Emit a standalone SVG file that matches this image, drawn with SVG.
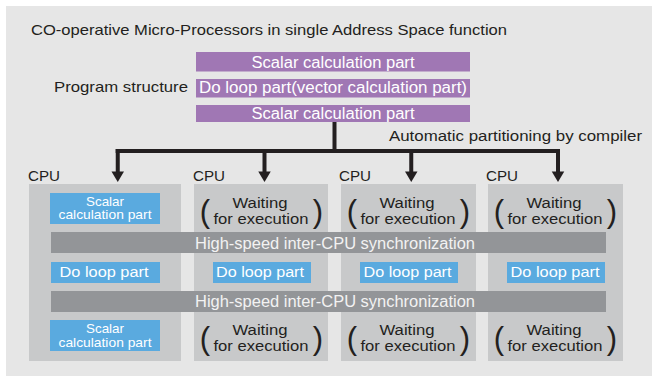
<svg xmlns="http://www.w3.org/2000/svg" width="652" height="376" viewBox="0 0 652 376">
<style>
text{font-family:"Liberation Sans",Arial,sans-serif;}
.dark{fill:#231f20;}
.wht{fill:#ffffff;}
.syn{fill:#f2f2f2;}
.purple{fill:#a077b4;}
.blue{fill:#5aaadf;}
.cpu{fill:#c8c9ca;}
.sync{fill:#939598;}
.par{font-size:31px;fill:#231f20;}
.wt{font-size:13.8px;fill:#231f20;}
.bt{font-size:13px;fill:#ffffff;}
.dl{font-size:15.5px;fill:#ffffff;}
.line{stroke:#231f20;stroke-width:4;fill:none;}
.ah{fill:#231f20;}
</style>
<rect x="6" y="6" width="646" height="370" fill="#e6e6e6"/>
<text x="31" y="35" font-size="14.5" class="dark" textLength="476" lengthAdjust="spacingAndGlyphs">CO-operative Micro-Processors in single Address Space function</text>

<g id="program">
<text x="54" y="92" font-size="15" class="dark" textLength="134" lengthAdjust="spacingAndGlyphs">Program structure</text>
<g id="bar1"><rect class="purple" x="196" y="52" width="274" height="19.5"/><text x="333" y="67.5" font-size="16" class="wht" text-anchor="middle" textLength="163" lengthAdjust="spacingAndGlyphs">Scalar calculation part</text></g>
<g id="bar2"><rect class="purple" x="196" y="79" width="274" height="18.5"/><text x="333" y="93" font-size="16" class="wht" text-anchor="middle" textLength="268" lengthAdjust="spacingAndGlyphs">Do loop part(vector calculation part)</text></g>
<g id="bar3"><rect class="purple" x="196" y="105" width="274" height="17"/><text x="333" y="119" font-size="16" class="wht" text-anchor="middle" textLength="163" lengthAdjust="spacingAndGlyphs">Scalar calculation part</text></g>
</g>

<text x="389" y="141" font-size="15.5" class="dark" textLength="253" lengthAdjust="spacingAndGlyphs">Automatic partitioning by compiler</text>

<g id="connectors">
<path class="line" d="M334.5 122 V151 M115.5 151 H560 M117.75 151 V172 M264.5 151 V172 M411.25 151 V172 M558 151 V172"/>
<polygon class="ah" points="111.5,171.5 124,171.5 117.75,182"/>
<polygon class="ah" points="258.25,171.5 270.75,171.5 264.5,182"/>
<polygon class="ah" points="405,171.5 417.5,171.5 411.25,182"/>
<polygon class="ah" points="551.75,171.5 564.25,171.5 558,182"/>
</g>

<g id="cpu1">
<text x="28" y="181" font-size="15.5" class="dark" textLength="32" lengthAdjust="spacingAndGlyphs">CPU</text>
<rect class="cpu" x="29" y="184" width="152" height="177"/>
<rect class="blue" x="50" y="193" width="110" height="31"/>
<text class="bt" text-anchor="middle"><tspan x="105" y="205.5" textLength="38" lengthAdjust="spacingAndGlyphs">Scalar</tspan><tspan x="105" y="219" textLength="93" lengthAdjust="spacingAndGlyphs">calculation part</tspan></text>
<rect class="blue" x="51" y="262" width="109" height="21"/>
<text x="104" y="277" class="dl" text-anchor="middle" textLength="89" lengthAdjust="spacingAndGlyphs">Do loop part</text>
<rect class="blue" x="50" y="320" width="110" height="31"/>
<text class="bt" text-anchor="middle"><tspan x="105" y="333" textLength="38" lengthAdjust="spacingAndGlyphs">Scalar</tspan><tspan x="105" y="346.5" textLength="93" lengthAdjust="spacingAndGlyphs">calculation part</tspan></text>
</g>

<g id="cpu2">
<text x="193" y="181" font-size="15.5" class="dark" textLength="32" lengthAdjust="spacingAndGlyphs">CPU</text>
<rect class="cpu" x="194" y="184" width="134" height="177"/>
<text x="205" y="222" class="par" text-anchor="middle">(</text><text x="318" y="222" class="par" text-anchor="middle">)</text>
<text class="wt" text-anchor="middle"><tspan x="260" y="208" textLength="55" lengthAdjust="spacingAndGlyphs">Waiting</tspan><tspan x="261" y="224" textLength="95" lengthAdjust="spacingAndGlyphs">for execution</tspan></text>
<rect class="blue" x="213" y="262" width="98" height="21"/>
<text x="260" y="277" class="dl" text-anchor="middle" textLength="88" lengthAdjust="spacingAndGlyphs">Do loop part</text>
<text x="205" y="349" class="par" text-anchor="middle">(</text><text x="318" y="349" class="par" text-anchor="middle">)</text>
<text class="wt" text-anchor="middle"><tspan x="260" y="335" textLength="55" lengthAdjust="spacingAndGlyphs">Waiting</tspan><tspan x="261" y="351" textLength="95" lengthAdjust="spacingAndGlyphs">for execution</tspan></text>
</g>

<g id="cpu3">
<text x="339" y="181" font-size="15.5" class="dark" textLength="32" lengthAdjust="spacingAndGlyphs">CPU</text>
<rect class="cpu" x="341" y="184" width="135" height="177"/>
<text x="352" y="222" class="par" text-anchor="middle">(</text><text x="465" y="222" class="par" text-anchor="middle">)</text>
<text class="wt" text-anchor="middle"><tspan x="407" y="208" textLength="55" lengthAdjust="spacingAndGlyphs">Waiting</tspan><tspan x="408" y="224" textLength="95" lengthAdjust="spacingAndGlyphs">for execution</tspan></text>
<rect class="blue" x="360" y="262" width="98" height="21"/>
<text x="407.5" y="277" class="dl" text-anchor="middle" textLength="88" lengthAdjust="spacingAndGlyphs">Do loop part</text>
<text x="352" y="349" class="par" text-anchor="middle">(</text><text x="465" y="349" class="par" text-anchor="middle">)</text>
<text class="wt" text-anchor="middle"><tspan x="407" y="335" textLength="55" lengthAdjust="spacingAndGlyphs">Waiting</tspan><tspan x="408" y="351" textLength="95" lengthAdjust="spacingAndGlyphs">for execution</tspan></text>
</g>

<g id="cpu4">
<text x="486" y="181" font-size="15.5" class="dark" textLength="32" lengthAdjust="spacingAndGlyphs">CPU</text>
<rect class="cpu" x="488" y="184" width="135" height="177"/>
<text x="499" y="222" class="par" text-anchor="middle">(</text><text x="612" y="222" class="par" text-anchor="middle">)</text>
<text class="wt" text-anchor="middle"><tspan x="554" y="208" textLength="55" lengthAdjust="spacingAndGlyphs">Waiting</tspan><tspan x="555" y="224" textLength="95" lengthAdjust="spacingAndGlyphs">for execution</tspan></text>
<rect class="blue" x="507" y="262" width="98" height="21"/>
<text x="555" y="277" class="dl" text-anchor="middle" textLength="89" lengthAdjust="spacingAndGlyphs">Do loop part</text>
<text x="499" y="349" class="par" text-anchor="middle">(</text><text x="612" y="349" class="par" text-anchor="middle">)</text>
<text class="wt" text-anchor="middle"><tspan x="554" y="335" textLength="55" lengthAdjust="spacingAndGlyphs">Waiting</tspan><tspan x="555" y="351" textLength="95" lengthAdjust="spacingAndGlyphs">for execution</tspan></text>
</g>

<g id="sync1">
<rect class="sync" x="51" y="232" width="555" height="21"/>
<text x="335" y="248.5" font-size="16" class="syn" text-anchor="middle" textLength="280" lengthAdjust="spacingAndGlyphs">High-speed inter-CPU synchronization</text>
</g>
<g id="sync2">
<rect class="sync" x="51" y="291" width="555" height="21"/>
<text x="335" y="307" font-size="16" class="syn" text-anchor="middle" textLength="280" lengthAdjust="spacingAndGlyphs">High-speed inter-CPU synchronization</text>
</g>
</svg>
